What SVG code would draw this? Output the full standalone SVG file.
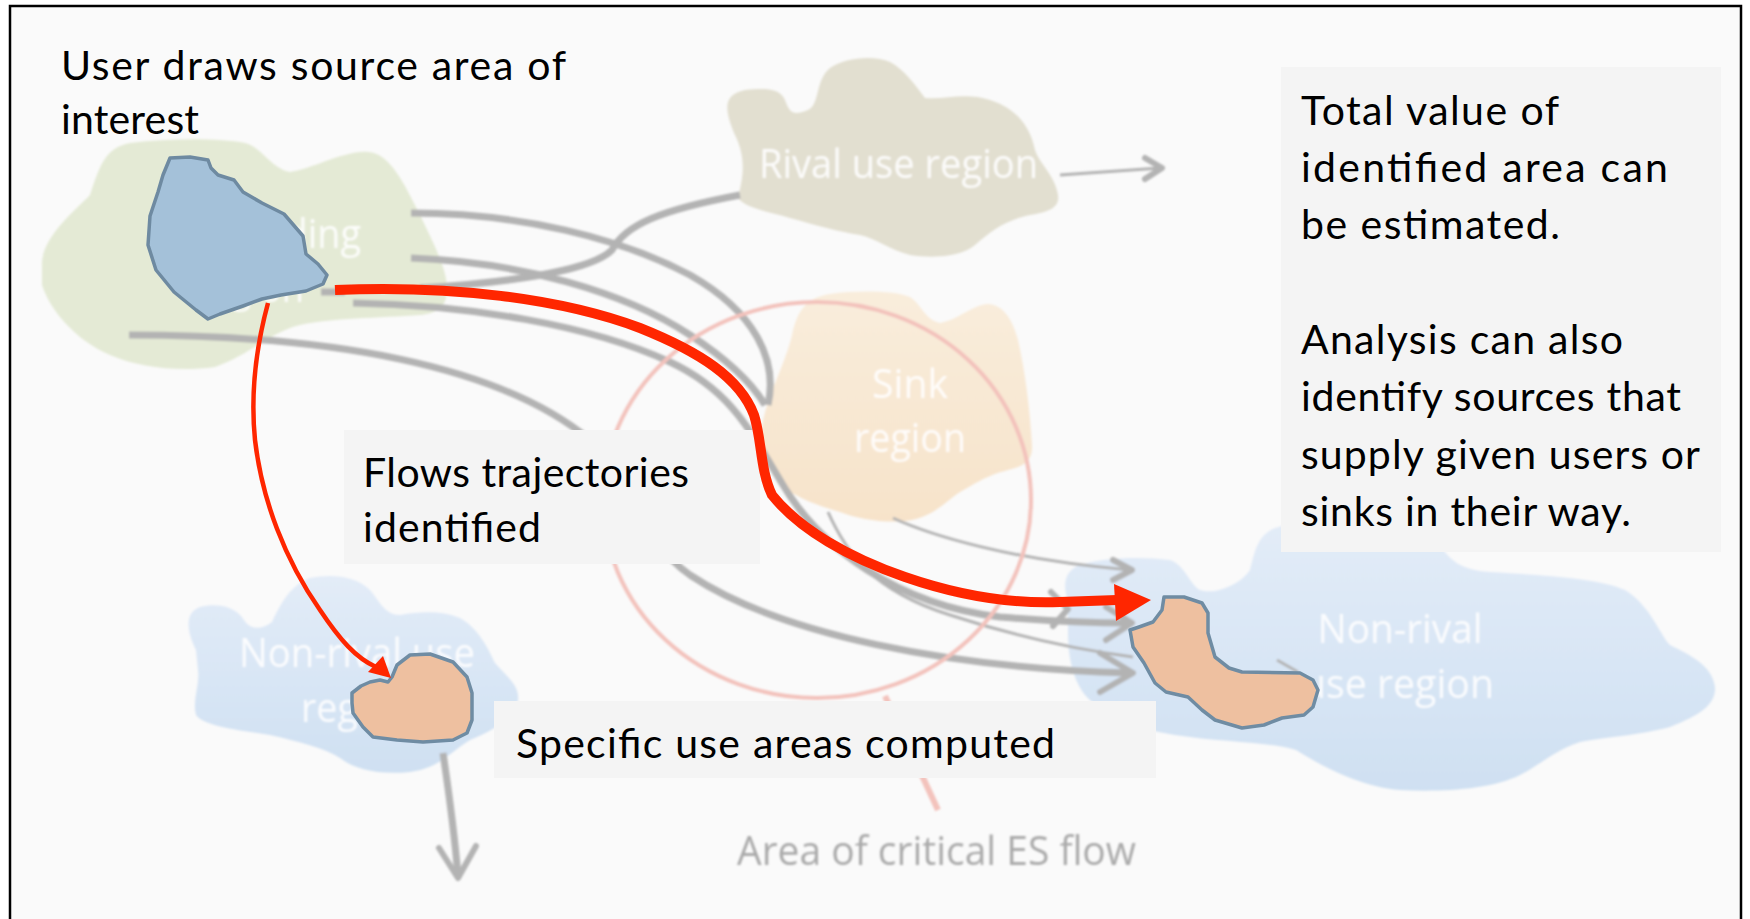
<svg xmlns="http://www.w3.org/2000/svg" width="1750" height="919" viewBox="0 0 1750 919">
  <defs>
    <style>
      .note{font-family:Lato,"Liberation Sans",sans-serif;font-size:41px;fill:#000}
      .lbl{font-family:"Open Sans","Liberation Sans",sans-serif;font-size:40px;fill:#fff;fill-opacity:.88}
      .flow{fill:none;stroke:#b3b3b3;stroke-width:7}
      .thin{fill:none;stroke:#b3b3b3;stroke-width:3}
      .chev{fill:none;stroke:#b3b3b3;stroke-width:6;stroke-linecap:round;stroke-linejoin:round}
      .box{fill:#f4f4f4}
      .area{fill:#eec0a0;stroke:#6f8ca3;stroke-width:3.5;stroke-linejoin:round}
      .red{fill:none;stroke:#ff2600}
    </style>
    <filter id="soft" filterUnits="userSpaceOnUse" x="0" y="0" width="1750" height="919">
      <feGaussianBlur stdDeviation="1"/>
    </filter>
    <linearGradient id="blueFill" x1="0" y1="0" x2="0" y2="1">
      <stop offset="0" stop-color="#e3ecf8"/>
      <stop offset="1" stop-color="#cfe0f2"/>
    </linearGradient>
    <linearGradient id="sinkFill" x1="0" y1="0" x2="0" y2="1">
      <stop offset="0" stop-color="#f9eddc"/>
      <stop offset="1" stop-color="#f7e3ca"/>
    </linearGradient>
  </defs>

  <!-- frame -->
  <rect x="0" y="0" width="1750" height="919" fill="#fff"/>
  <rect x="10" y="6" width="1731" height="940" fill="#fafafa" stroke="#000" stroke-width="2.5"/>

  <!-- faded background map -->
  <g id="background" filter="url(#soft)">
    <g id="providing-region">
      <path fill="#e4ead5" d="M42,267 C40,240 70,215 90,195 C100,165 105,148 130,143 C170,138 220,138 245,143 C262,147 270,168 290,172 C310,170 345,150 368,152 C390,153 405,185 420,215 C432,240 445,265 447,285 C448,305 440,313 420,315 C380,318 330,318 300,325 C270,332 250,355 215,367 C180,372 140,368 110,355 C75,340 50,310 42,285 Z"/>
      <text class="lbl" x="195" y="248" textLength="166" lengthAdjust="spacingAndGlyphs">Providing</text>
      <text class="lbl" x="196" y="302" textLength="108" lengthAdjust="spacingAndGlyphs">region</text>
    </g>
    <g id="rival-region">
      <path fill="#e2dfd0" d="M734,133 C725,110 722,95 745,90 C765,88 780,88 785,100 C790,115 795,115 808,110 C820,105 815,80 830,68 C845,57 875,55 890,62 C905,70 915,85 925,98 C945,100 965,92 990,100 C1015,108 1030,125 1035,150 C1040,165 1055,175 1058,195 C1060,208 1048,212 1030,215 C1005,220 990,232 975,245 C960,258 930,258 910,255 C890,250 875,238 860,235 C840,232 815,225 790,218 C770,212 745,208 738,198 C742,180 748,160 734,133 Z"/>
      <text class="lbl" x="759" y="178" textLength="279" lengthAdjust="spacingAndGlyphs">Rival use region</text>
    </g>
    <g id="sink-region">
      <path fill="url(#sinkFill)" d="M787,490 C768,472 760,450 762,428 C765,400 785,365 792,335 C797,312 805,298 830,294 C860,290 895,291 910,297 C922,305 925,320 940,323 C958,320 972,305 988,304 C1003,305 1012,318 1018,340 C1025,370 1030,410 1032,445 C1033,460 1025,466 1008,470 C985,476 975,484 960,492 C945,502 935,515 912,520 C890,524 860,520 840,512 C815,505 800,498 787,490 Z"/>
      <text class="lbl" x="910" y="398" text-anchor="middle" textLength="76" lengthAdjust="spacingAndGlyphs">Sink</text>
      <text class="lbl" x="910" y="452" text-anchor="middle" textLength="112" lengthAdjust="spacingAndGlyphs">region</text>
    </g>
    <g id="nonrival-left">
      <path fill="url(#blueFill)" d="M196,650 C186,630 185,612 200,607 C215,603 235,605 244,620 C250,630 262,630 272,622 C280,605 290,585 310,578 C330,574 355,575 370,590 C380,602 385,615 400,615 C420,612 440,610 460,618 C478,628 488,648 495,663 C505,675 520,685 518,700 C516,718 490,732 470,740 C450,752 440,768 410,772 C380,775 355,770 340,758 C325,748 300,742 270,735 C240,730 205,727 196,715 C192,700 200,685 198,670 Z"/>
      <text class="lbl" x="239" y="667" textLength="236" lengthAdjust="spacingAndGlyphs">Non-rival use</text>
      <text class="lbl" x="357" y="722" text-anchor="middle" textLength="112" lengthAdjust="spacingAndGlyphs">region</text>
    </g>
    <g id="nonrival-right">
      <path fill="url(#blueFill)" d="M1068,600 C1062,585 1065,570 1080,565 C1100,558 1140,556 1170,560 C1185,565 1190,585 1200,590 C1215,595 1240,585 1250,570 C1255,550 1258,535 1275,528 C1320,515 1400,520 1440,545 C1450,560 1460,570 1490,572 C1540,575 1600,578 1625,590 C1650,605 1660,635 1670,645 C1690,655 1712,665 1715,687 C1716,705 1700,715 1670,727 C1640,735 1600,738 1580,742 C1555,750 1540,765 1520,775 C1490,790 1440,792 1400,790 C1360,787 1320,765 1296,750 C1270,742 1220,742 1175,735 C1130,728 1100,712 1085,695 C1070,675 1068,650 1068,630 Z"/>
      <text class="lbl" x="1400" y="643" text-anchor="middle" textLength="165" lengthAdjust="spacingAndGlyphs">Non-rival</text>
      <text class="lbl" x="1398" y="698" text-anchor="middle" textLength="192" lengthAdjust="spacingAndGlyphs">use region</text>
    </g>

    <!-- flow paths -->
    <g id="flows">
      <path class="flow" d="M411,213 C520,213 620,238 690,275 C755,312 778,360 768,405"/>
      <path class="flow" d="M411,258 C520,262 625,292 690,335 C725,358 752,383 765,405"/>
      <path class="flow" d="M420,288 C500,283 590,272 612,250 C625,225 660,210 740,195"/>
      <path class="flow" d="M321,292 L345,292"/>
      <path class="flow" d="M353,303 C470,305 590,325 670,362 C730,390 750,430 780,480 C820,550 900,605 1000,617 C1060,622 1100,623 1130,623"/>
      <path class="chev" d="M1106,607 L1132,623 L1106,640"/>
      <path class="chev" d="M1051,592 L1068,609 L1053,626"/>
      <path class="flow" stroke-width="9" d="M129,335 C330,335 500,365 590,440 C630,480 640,540 690,575 C780,635 950,668 1130,673"/>
      <path class="chev" stroke-width="8" d="M1100,653 L1133,673 L1100,692"/>
      <path class="thin" d="M893,518 C930,535 1010,560 1130,570"/>
      <path class="chev" stroke-width="4" d="M1113,560 L1132,570 L1113,580"/>
      <path class="thin" d="M828,512 C845,550 870,590 950,615 C1020,638 1080,650 1133,657"/>
      <path class="thin" d="M1060,175 L1160,168"/>
      <path class="chev" stroke-width="3.5" d="M1145,158 L1162,168 L1145,179"/>
      <path class="thin" d="M1277,660 L1298,672"/>
      <path class="flow" stroke-width="8" d="M443,753 C450,800 455,840 458,876"/>
      <path class="chev" stroke-width="8" d="M439,848 L458,878 L476,846"/>
    </g>

    <g id="critical-area">
      <ellipse cx="817" cy="500" rx="214" ry="198" fill="none" stroke="#f3c2bc" stroke-width="4"/>
      <path d="M885,696 L938,810" stroke="#f3c2bc" stroke-width="6" fill="none"/>
      <text x="737" y="865" font-family="'Open Sans','Liberation Sans',sans-serif" font-size="40" fill="#aaaaaa" textLength="399" lengthAdjust="spacingAndGlyphs">Area of critical ES flow</text>
    </g>
  </g>

  <!-- caption boxes -->
  <rect id="box-flows" class="box" x="344" y="430" width="416" height="134"/>
  <rect id="box-areas" class="box" x="494" y="701" width="662" height="77"/>
  <rect id="box-value" class="box" x="1281" y="67" width="440" height="485"/>

  <!-- drawn areas -->
  <path id="source-area" fill="#a4c1d9" stroke="#6e8aa1" stroke-width="3.5" stroke-linejoin="round" d="M170,158 L190,157 L208,160 L211,168 L218,175 L234,180 L243,192 L262,203 L284,214 L303,236 L306,254 L318,264 L327,275 L323,284 L306,291 L281,295 L262,299 L243,306 L220,314 L208,319 L196,310 L185,301 L174,292 L156,270 L148,245 L150,216 L158,192 L163,175 Z"/>
  <path id="use-area-left" class="area" d="M352,693 L361,686 L370,682 L380,680 L388,682 L392,677 L397,665 L410,655 L430,654 L453,662 L467,677 L472,693 L472,720 L467,733 L453,740 L423,742 L397,740 L373,737 L363,727 L353,713 L352,703 Z"/>
  <path id="use-area-right" class="area" d="M1164,597 L1184,597 L1202,603 L1208,613 L1208,633 L1215,657 L1229,668 L1242,672 L1300,673 L1313,680 L1318,690 L1313,707 L1304,715 L1282,718 L1264,725 L1242,728 L1215,720 L1202,710 L1188,697 L1166,692 L1155,683 L1144,663 L1133,647 L1130,630 L1139,627 L1153,622 L1162,610 Z"/>

  <!-- highlighted trajectories -->
  <g id="connectors">
    <path class="red" stroke-width="10" d="M335,290 C450,285 560,298 640,328 C700,352 740,378 754,415 C762,440 760,470 772,495 C800,530 850,558 905,577 C960,596 1010,604 1060,602 L1117,600"/>
    <polygon fill="#ff2600" points="1114,584 1151,600 1116,621"/>
    <path class="red" stroke-width="4.5" d="M268,303 C258,340 250,390 255,440 C262,500 285,560 320,610 C340,640 356,658 376,667"/>
    <polygon fill="#ff2600" points="391,678 368,672 383,656"/>
  </g>

  <!-- captions -->
  <g id="captions">
    <text class="note" x="61" y="80" textLength="505" lengthAdjust="spacing">User draws source area of</text>
    <text class="note" x="61" y="134" textLength="138" lengthAdjust="spacing">interest</text>
    <text class="note" x="363" y="487" textLength="326" lengthAdjust="spacing">Flows trajectories</text>
    <text class="note" x="363" y="542" textLength="178" lengthAdjust="spacing">identified</text>
    <text class="note" x="516" y="758" textLength="539" lengthAdjust="spacing">Specific use areas computed</text>
    <text class="note" x="1301" y="125" textLength="258" lengthAdjust="spacing">Total value of</text>
    <text class="note" x="1301" y="182" textLength="367" lengthAdjust="spacing">identified area can</text>
    <text class="note" x="1301" y="239" textLength="259" lengthAdjust="spacing">be estimated.</text>
    <text class="note" x="1301" y="354" textLength="322" lengthAdjust="spacing">Analysis can also</text>
    <text class="note" x="1301" y="411" textLength="380" lengthAdjust="spacing">identify sources that</text>
    <text class="note" x="1301" y="469" textLength="399" lengthAdjust="spacing">supply given users or</text>
    <text class="note" x="1301" y="526" textLength="330" lengthAdjust="spacing">sinks in their way.</text>
  </g>
</svg>
